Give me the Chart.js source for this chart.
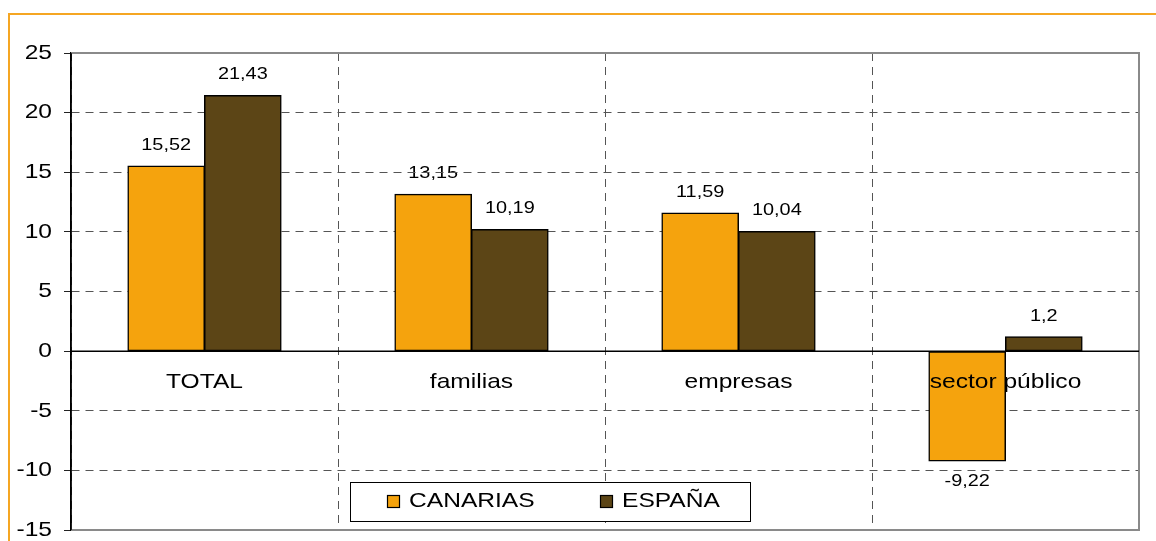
<!DOCTYPE html>
<html>
<head>
<meta charset="utf-8">
<script src="https://cdn.jsdelivr.net/npm/chart.js@4.4.1/dist/chart.umd.min.js"></script>
<style>
html,body{margin:0;padding:0;background:#fff;}
#wrap{width:1156px;height:541px;position:relative;}
</style>
</head>
<body>
<div id="wrap"><canvas id="c" width="1156" height="541"></canvas></div>
<script>
const categories = ['TOTAL', 'familias', 'empresas', 'sector público'];
const canarias = [15.52, 13.15, 11.59, -9.22];
const espana = [21.43, 10.19, 10.04, 1.2];
const seriesNames = ['CANARIAS', 'ESPAÑA'];
const yTicks = [-15, -10, -5, 0, 5, 10, 15, 20, 25];

const ORANGE = '#F5A30D';
const BROWN = '#5C4516';
const SX = 1.17;
const FONT = '"Liberation Sans", Arial, sans-serif';

function stretchText(ctx, s, x, y, size, align) {
  ctx.save();
  ctx.font = size + 'px ' + FONT;
  ctx.textBaseline = 'middle';
  ctx.textAlign = 'left';
  const w = ctx.measureText(s).width * SX;
  let left = x;
  if (align === 'center') left = x - w / 2;
  else if (align === 'right') left = x - w;
  ctx.translate(left, y);
  ctx.scale(SX, 1);
  ctx.fillStyle = '#000';
  ctx.fillText(s, 0, 0);
  ctx.restore();
}
function fmt(v) { return String(v).replace('.', ','); }

const customPlugin = {
  id: 'custom',
  beforeDraw(chart) {
    const ctx = chart.ctx;
    chart.data.datasets.forEach((ds, di) => {
      const meta = chart.getDatasetMeta(di);
      meta.data.forEach((bar, i) => {
        const v = ds.data[i];
        const y = v >= 0 ? bar.y - 21 : bar.y + 20;
        stretchText(ctx, fmt(v), bar.x, y, 17, 'center');
      });
    });
  },
  afterDraw(chart) {
    const ctx = chart.ctx;
    const a = chart.chartArea;
    const ys = chart.scales.y;
    const xs = chart.scales.x;
    ctx.save();
    ctx.strokeStyle = '#8a8a8a';
    ctx.lineWidth = 2;
    ctx.beginPath();
    ctx.moveTo(a.left, a.top); ctx.lineTo(a.right, a.top);
    ctx.lineTo(a.right, a.bottom); ctx.lineTo(a.left, a.bottom);
    ctx.stroke();
    ctx.strokeStyle = '#000';
    ctx.lineWidth = 1.5;
    ctx.beginPath();
    ctx.moveTo(a.left, a.top); ctx.lineTo(a.left, a.bottom);
    ctx.stroke();
    const y0 = ys.getPixelForValue(0);
    ctx.lineWidth = 1.5;
    ctx.beginPath();
    ctx.moveTo(a.left, y0); ctx.lineTo(a.right, y0);
    ctx.stroke();
    ctx.restore();
    ys.ticks.forEach(t => {
      stretchText(ctx, String(t.value), a.left - 19, ys.getPixelForValue(t.value), 21, 'right');
    });
    chart.data.labels.forEach((lab, i) => {
      stretchText(ctx, lab, xs.getPixelForValue(i), y0 + 31, 21, 'center');
    });
    ctx.save();
    ctx.fillStyle = '#fff';
    ctx.fillRect(350, 482, 400, 39);
    ctx.strokeStyle = '#000';
    ctx.lineWidth = 1;
    ctx.strokeRect(350.5, 482.5, 400, 39);
    const lx = [387, 600];
    chart.data.datasets.forEach((ds, di) => {
      ctx.fillStyle = ds.backgroundColor;
      ctx.fillRect(lx[di], 495, 13, 13);
      ctx.strokeStyle = '#000';
      ctx.lineWidth = 1.2;
      ctx.strokeRect(lx[di] + 0.5, 495.5, 12, 12);
      stretchText(ctx, ds.label, lx[di] + 22, 501.5, 21, 'left');
    });
    ctx.restore();
    ctx.save();
    ctx.strokeStyle = '#F5A623';
    ctx.lineWidth = 2;
    ctx.beginPath();
    ctx.moveTo(9, 541); ctx.lineTo(9, 14); ctx.lineTo(1156, 14);
    ctx.stroke();
    ctx.restore();
  }
};

new Chart(document.getElementById('c'), {
  type: 'bar',
  data: {
    labels: categories,
    datasets: [
      { label: seriesNames[0], data: canarias, backgroundColor: ORANGE, borderColor: '#000', borderWidth: 1.5, borderSkipped: false, inflateAmount: 0.5 },
      { label: seriesNames[1], data: espana, backgroundColor: BROWN, borderColor: '#000', borderWidth: 1.5, borderSkipped: false, inflateAmount: 0.5 }
    ]
  },
  options: {
    responsive: false,
    animation: false,
    events: [],
    layout: { padding: { top: 53, right: 17, bottom: 11, left: 0 } },
    datasets: { bar: { categoryPercentage: 0.574, barPercentage: 1.0 } },
    plugins: { legend: { display: false }, tooltip: { enabled: false }, title: { display: false } },
    scales: {
      x: {
        ticks: { display: false },
        grid: { offset: true, color: '#555', lineWidth: 1, drawTicks: false, tickBorderDash: [] },
        border: { display: false, dash: [8, 6] },
        afterFit(s) { s.height = 0; }
      },
      y: {
        min: -15, max: 25,
        afterBuildTicks(s) { s.ticks = yTicks.map(v => ({ value: v })); },
        ticks: { display: false },
        grid: { color: '#555', lineWidth: 1, drawTicks: true, tickLength: 7, tickColor: '#222', tickBorderDash: [] },
        border: { display: true, color: '#000', width: 1.5, dash: [8, 6] },
        afterFit(s) { s.width = 71; }
      }
    }
  },
  plugins: [customPlugin]
});
</script>
</body>
</html>
